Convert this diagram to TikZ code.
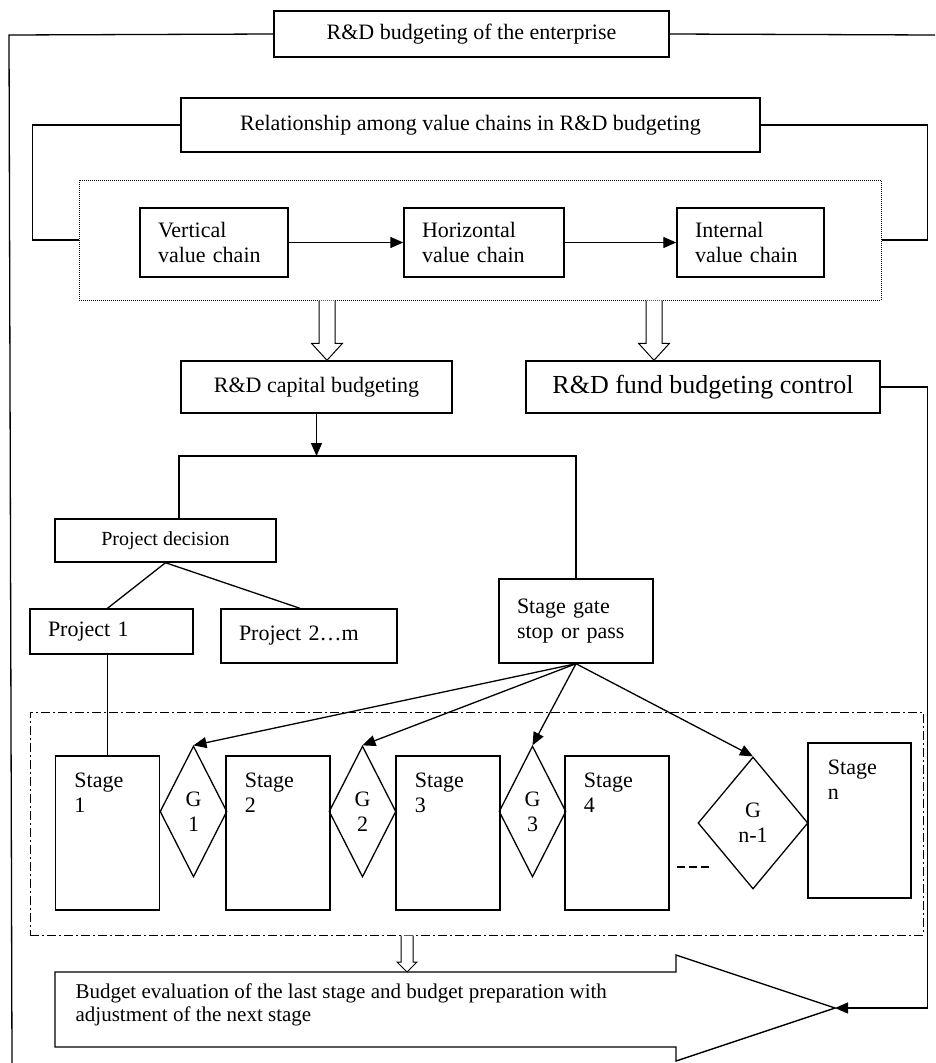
\documentclass[tikz,border=0pt]{standalone}
\usepackage{fontspec}
\setmainfont{Liberation Serif}
\usepackage{tikz}
\usetikzlibrary{arrows.meta,
  positioning,
  calc,
  shapes.geometric}

% hollow block arrow: from, to, half shaft, half head, head length
\newcommand{\hollowarrow}[5]{%
  \draw[line width=1pt, fill=white] ($(#1)+(-#3,0)$) -- ($(#2)+(-#3,-#5)$) -- ($(#2)+(-#4,-#5)$) -- (#2)
    -- ($(#2)+(#4,-#5)$) -- ($(#2)+(#3,-#5)$) -- ($(#1)+(#3,0)$);}

\tikzset{
  >={Triangle[length=13pt,width=11pt]},
  box/.style 2 args={draw, line width=1.4pt, minimum width=#1, minimum height=#2, inner sep=0pt, align=center},
  leftbox/.style 2 args={draw, line width=1.4pt, text width=#1, minimum height=#2, inner xsep=18pt, inner ysep=0pt, align=left},
  stagebox/.style={draw, line width=1.4pt, minimum width=104pt, minimum height=154pt},
  stagetext/.style={anchor=north west, inner sep=0pt, align=left},
  gatediamond/.style={draw, diamond, line width=1.3pt, inner sep=0pt, minimum width=67pt, minimum height=131pt, align=center}
}

\begin{document}
\begin{tikzpicture}[x=1pt, y=-1pt, line width=1.3pt, font=\fontsize{22}{25}\selectfont]
      \useasboundingbox (0,0) rectangle (935,1063);

      % Top frame
      \node[box={395pt}{46pt}] (title) at (471.5,34) {R\&D budgeting of the enterprise};
      \draw (title.west) -- (9,35) -- (12,1063);
      \draw (title.east) -- (935,35);

      % Value chains
      \node[box={579pt}{54pt}] (rel) at (470.5,125) {Relationship among value chains in R\&D budgeting};
      \node[draw, densely dotted, line width=1pt, minimum width=802pt, minimum height=120pt] (chains) at (480,240) {};
      \draw (rel.west) -- ++(-148,0) |- (chains.west);
      \draw (rel.east) -- ++(167,0) |- (chains.east);

      \node[leftbox={112pt}{69pt}] (vert) at (214,242.5) {Vertical\\value chain};
      \node[leftbox={124pt}{69pt}] (horiz) at (484,242.5) {Horizontal\\value chain};
      \node[leftbox={111pt}{69pt}] (intern) at (750.5,242.5) {Internal\\value chain};
      \draw[->] (vert) -- (horiz);
      \draw[->] (horiz) -- (intern);

      % Budgeting
      \node[box={271pt}{52pt}] (cap) at (316.5,387) {R\&D capital budgeting};
      \node[box={354pt}{52pt}, font=\fontsize{26}{30}\selectfont] (fund) at (703,387) {R\&D fund budgeting control};
      \coordinate (capout) at (327,0 |- chains.south);
      \coordinate (capin) at (327,0 |- cap.north);
      \coordinate (fundout) at (654,0 |- chains.south);
      \coordinate (fundin) at (654,0 |- fund.north);
      \hollowarrow{capout}{capin}{8}{15.5}{17}
      \hollowarrow{fundout}{fundin}{8}{15.5}{17}

      % Projects
      \coordinate (split) at (316.5,456);
      \node[box={221pt}{43pt}, font=\fontsize{20}{24}\selectfont] (pd) at (165.5,540.5) {Project decision};
      \node[leftbox={127pt}{45pt}] (p1) at (111.5,631.5) {Project 1};
      \node[leftbox={140pt}{54pt}] (p2) at (309,636) {Project 2…m};
      \node[leftbox={118pt}{84pt}] (sgate) at (576,621) {Stage gate\\stop or pass};
      \draw[->] (cap.south) -- (split);
      \draw (179,0 |- pd.north) |- (split) -| (sgate.north);
      \draw (pd.south) -- ($(p1.north)+(-4,0)$);
      \draw (pd.south) -- ($(p2.north)+(-9,0)$);

      % Stages
      \node[draw, dash pattern=on 9pt off 3pt on 2pt off 3pt, line width=1pt, minimum width=893pt, minimum height=223pt] (stages) at (476.5,823.5) {};
      \foreach \i/\x in {1/107.5, 2/278, 3/448, 4/617} {
        \node[stagebox] (s\i) at (\x,833) {};
        \node[stagetext] (s\i t) at ($(s\i.north west)+(19,17)$) {Stage\\\i};
      }
      \node[stagebox, minimum width=103pt, minimum height=155pt] (sn) at (859.5,820.5) {};
      \node[stagetext] (snt) at ($(sn.north west)+(20,17)$) {Stage\\n};
      \foreach \i/\x in {1/193.5, 2/362.5, 3/532.5} {
        \node[gatediamond] (g\i) at (\x,811.5) {G\\\i};
        \draw[->] (sgate.south) -- (g\i.north);
      }
      \node[gatediamond, minimum width=110pt, minimum height=132pt] (gn) at (753,823) {G\\n-1};
      \draw[->] (sgate.south) -- (gn.north);
      \draw[line width=1.4pt, dash pattern=on 8pt off 4pt] (677,867) -- (711,867);
      \draw (s1.north |- p1.south) -- (s1.north);

      % Evaluation
      \coordinate (evaltop) at (407,972);
      \coordinate (evaltip) at (835,1008);
      \draw[line width=1.4pt] (55,972) -- (676,972) -- (676,955) -- (evaltip) -- (676,1061) -- (676,1047) -- (55,1047) -- cycle;
      \node[anchor=north west, inner sep=0pt, align=left, font=\fontsize{21}{23}\selectfont] (eval) at (75,983)
        {Budget evaluation of the last stage and budget preparation with\\adjustment of the next stage};
      \coordinate (stagesout) at (407,0 |- stages.south);
      \hollowarrow{stagesout}{evaltop}{6}{10}{10}
      \draw[->] (fund.east) -- ++(47,0) |- (evaltip);

\end{tikzpicture}
\end{document}
